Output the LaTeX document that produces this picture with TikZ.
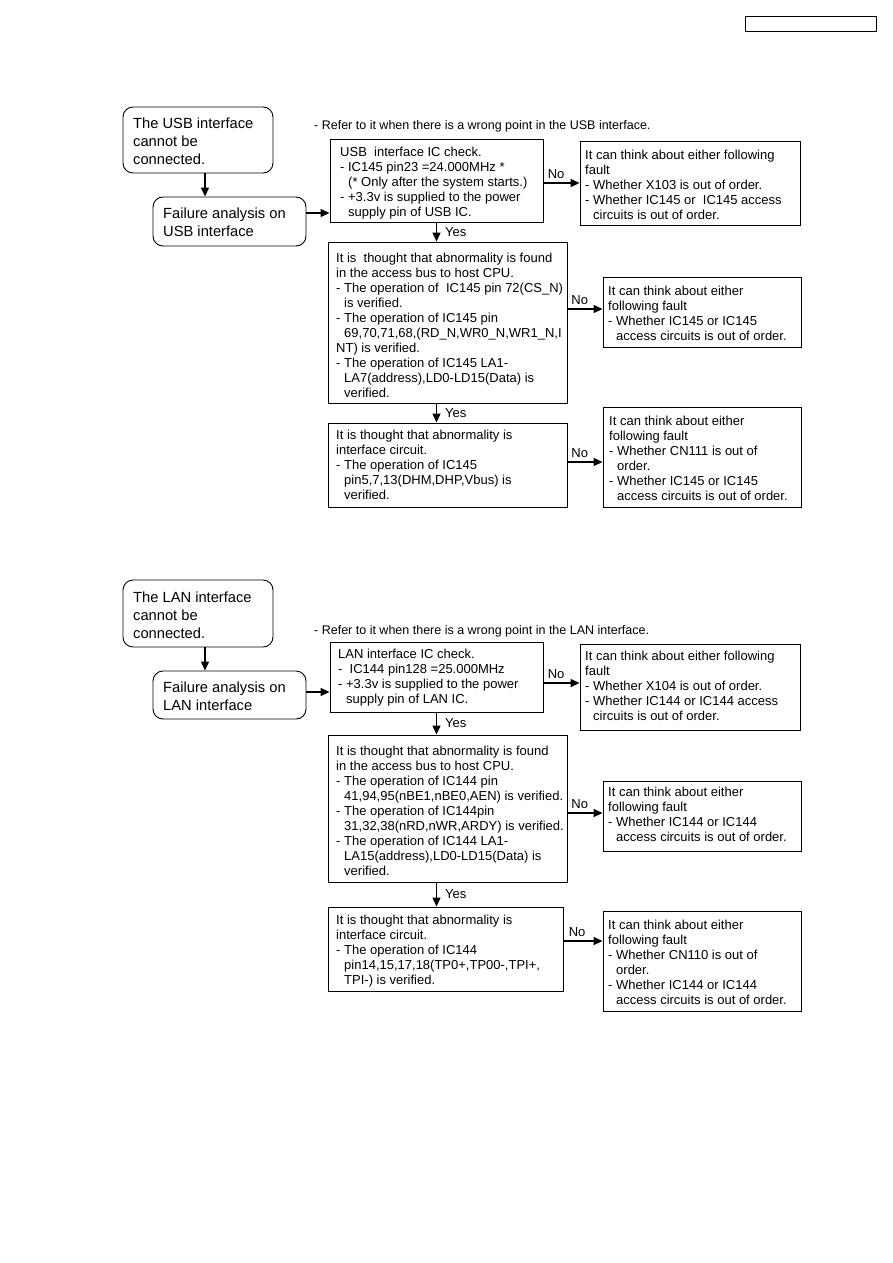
\documentclass[tikz,border=0pt]{standalone}
\usepackage{fontspec}
\setmainfont{Liberation Sans}
\usetikzlibrary{arrows.meta,fit}
\tikzset{
  frame/.style={draw=black, line width=0.9pt, inner sep=0pt},
  rframe/.style={frame, rounded corners=10pt},
  txt/.style={anchor=north west, inner sep=0pt, align=left, font=\fontsize{13}{15}\selectfont},
  reftxt/.style={anchor=north west, inner sep=0pt, align=left, font=\fontsize{12.5}{15}\selectfont},
  bigtxt/.style={anchor=north west, inner sep=0pt, align=left, font=\fontsize{14.7}{18}\selectfont},
  arr/.style={line width=1.3pt, -{Triangle[length=9pt,width=8pt]}},
  lab/.style={font=\fontsize{13}{15}\selectfont, inner sep=0pt}
}
\newcommand{\ind}{\hspace*{8pt}}
\begin{document}
\begin{tikzpicture}[x=1pt,y=-1pt]
\useasboundingbox (0,0) rectangle (893,1263);

% header box
\node[frame, fit={(745,16) (876,31)}] (hdr) {};

% ================= USB =================
\node[rframe, fit={(123,107) (273,173)}] (us) {};
\node[bigtxt] (ust) at (133,118) {The USB interface\\cannot be\\connected.};
\node[rframe, fit={(153,197) (306,246)}] (ufa) {};
\node[bigtxt] (ufat) at (163,208) {Failure analysis on\\USB interface};

\node[reftxt] (uref) at (314,120) {- Refer to it when there is a wrong point in the USB interface.};

\node[frame, fit={(330,139) (543,222)}] (uck) {};
\node[txt] (uckt) at (340,146.5) {USB\ \ interface IC check.\\- IC145 pin23 =24.000MHz *\\\ind(* Only after the system starts.)\\- +3.3v is supplied to the power\\\ind supply pin of USB IC.};

\node[frame, fit={(580,141) (800,225)}] (un1) {};
\node[txt] (un1t) at (585,149.5) {It can think about either following\\fault\\- Whether X103 is out of order.\\- Whether IC145 or\ \ IC145 access\\\ind circuits is out of order.};

\node[frame, fit={(328,242) (567,403)}] (ub2) {};
\node[txt] (ub2t) at (336,253) {It is\ \ thought that abnormality is found\\in the access bus to host CPU.\\- The operation of\ \ IC145 pin 72(CS\_N)\\\ind is verified.\\- The operation of IC145 pin\\\ind 69,70,71,68,(RD\_N,WR0\_N,WR1\_N,I\\NT) is verified.\\- The operation of IC145 LA1-\\\ind LA7(address),LD0-LD15(Data) is\\\ind verified.};

\node[frame, fit={(603,277) (801,347)}] (un2) {};
\node[txt] (un2t) at (608,285.5) {It can think about either\\following fault\\- Whether IC145 or IC145\\\ind access circuits is out of order.};

\node[frame, fit={(328,423) (567,507)}] (ub3) {};
\node[txt] (ub3t) at (336,430) {It is thought that abnormality is\\interface circuit.\\- The operation of IC145\\\ind pin5,7,13(DHM,DHP,Vbus) is\\\ind verified.};

\node[frame, fit={(603,407) (801,507)}] (un3) {};
\node[txt] (un3t) at (609,415.5) {It can think about either\\following fault\\- Whether CN111 is out of\\\ind order.\\- Whether IC145 or IC145\\\ind access circuits is out of order.};

\draw[arr] ([xshift=7pt]us.south) -- ([xshift=7pt]us.south |- ufa.north);
\coordinate (ua1) at ([yshift=8.5pt]ufa.east);
\draw[arr] (ua1) -- (ua1 -| uck.west);
\draw[arr] (uck.east |- un1.west) -- node[lab, pos=0.35, above=4pt] (uno1) {No} (un1.west);
\draw[arr] (uck.south) -- node[lab, right=8pt] (uy1) {Yes} (uck.south |- ub2.north);
\coordinate (ua2) at ([yshift=3pt]un2.west);
\draw[arr] (ua2 -| ub2.east) -- node[lab, pos=0.35, above=4pt] (uno2) {No} (ua2);
\draw[arr] (uck.south |- ub2.south) -- node[lab, right=8pt] (uy2) {Yes} (uck.south |- ub3.north);
\coordinate (ua3) at ([yshift=3pt]ub3.east);
\draw[arr] (ua3) -- node[lab, pos=0.35, above=4pt] (uno3) {No} (ua3 -| un3.west);

% ================= LAN =================
\node[rframe, fit={(123,580) (273,647)}] (ls) {};
\node[bigtxt] (lst) at (133,592) {The LAN interface\\cannot be\\connected.};
\node[rframe, fit={(153,671) (306,719)}] (lfa) {};
\node[bigtxt] (lfat) at (163,682) {Failure analysis on\\LAN interface};

\node[reftxt] (lref) at (314,625) {- Refer to it when there is a wrong point in the LAN interface.};

\node[frame, fit={(330,642) (543,712)}] (lck) {};
\node[txt] (lckt) at (338,649) {LAN interface IC check.\\-\ \ IC144 pin128 =25.000MHz\\- +3.3v is supplied to the power\\\ind supply pin of LAN IC.};

\node[frame, fit={(580,644) (800,730)}] (ln1) {};
\node[txt] (ln1t) at (585,651) {It can think about either following\\fault\\- Whether X104 is out of order.\\- Whether IC144 or IC144 access\\\ind circuits is out of order.};

\node[frame, fit={(328,735) (567,882)}] (lb2) {};
\node[txt] (lb2t) at (336,746) {It is thought that abnormality is found\\in the access bus to host CPU.\\- The operation of IC144 pin\\\ind 41,94,95(nBE1,nBE0,AEN) is verified.\\- The operation of IC144pin\\\ind 31,32,38(nRD,nWR,ARDY) is verified.\\- The operation of IC144 LA1-\\\ind LA15(address),LD0-LD15(Data) is\\\ind verified.};

\node[frame, fit={(603,781) (801,851)}] (ln2) {};
\node[txt] (ln2t) at (608,786.5) {It can think about either\\following fault\\- Whether IC144 or IC144\\\ind access circuits is out of order.};

\node[frame, fit={(328,907) (563,991)}] (lb3) {};
\node[txt] (lb3t) at (336,914.5) {It is thought that abnormality is\\interface circuit.\\- The operation of IC144\\\ind pin14,15,17,18(TP0+,TP00-,TPI+,\\\ind TPI-) is verified.};

\node[frame, fit={(603,911) (801,1011)}] (ln3) {};
\node[txt] (ln3t) at (608,919.5) {It can think about either\\following fault\\- Whether CN110 is out of\\\ind order.\\- Whether IC144 or IC144\\\ind access circuits is out of order.};

\draw[arr] ([xshift=7pt]ls.south) -- ([xshift=7pt]ls.south |- lfa.north);
\coordinate (la1) at ([yshift=3pt]lfa.east);
\draw[arr] (la1) -- (la1 -| lck.west);
\coordinate (la0) at ([yshift=-6pt]lck.east);
\draw[arr] (la0) -- node[lab, pos=0.35, above=4pt] (lno1) {No} (la0 -| ln1.west);
\draw[arr] (lck.south) -- node[lab, right=8pt] (ly1) {Yes} (lck.south |- lb2.north);
\coordinate (la2) at ([yshift=3pt]ln2.west);
\draw[arr] (la2 -| lb2.east) -- node[lab, pos=0.35, above=4pt] (lno2) {No} (la2);
\draw[arr] (lck.south |- lb2.south) -- node[lab, right=8pt] (ly2) {Yes} (lck.south |- lb3.north);
\coordinate (la3) at ([yshift=8pt]lb3.east);
\draw[arr] (la3) -- node[lab, pos=0.35, above=4pt] (lno3) {No} (la3 -| ln3.west);
\end{tikzpicture}
\end{document}
